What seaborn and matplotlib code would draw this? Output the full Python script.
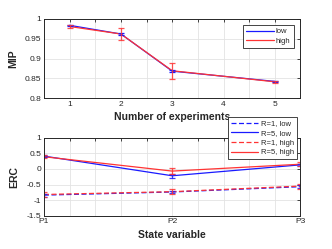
import numpy as np
import pandas as pd
import matplotlib
matplotlib.use("Agg")
import matplotlib.pyplot as plt
import seaborn as sns
from matplotlib.lines import Line2D

# ---- data: top panel ----
n_exp = [1, 2, 3, 5]
mip_low = [0.984, 0.962, 0.868, 0.842]
mip_low_err = [0.002, 0.002, 0.002, 0.001]
mip_high = [0.981, 0.962, 0.869, 0.841]
mip_high_err = [0.005, 0.014, 0.020, 0.002]

# ---- data: bottom panel ----
state_vars = ["P1", "P2", "P3"]
erc_r1_low = [-0.84, -0.74, -0.57]
erc_r1_low_err = [0.05, 0.03, 0.05]
erc_r5_low = [0.41, -0.22, 0.13]
erc_r5_low_err = [0.03, 0.06, 0.03]
erc_r1_high = [-0.82, -0.73, -0.55]
erc_r1_high_err = [0.08, 0.07, 0.08]
erc_r5_high = [0.39, -0.07, 0.15]
erc_r5_high_err = [0.05, 0.10, 0.06]

BLUE = "#1a1aff"
RED = "#ff3333"
TXT = "#262626"

sns.set_style("whitegrid")
plt.rcParams["font.family"] = ["Liberation Sans", "DejaVu Sans"]
plt.rcParams["axes.edgecolor"] = TXT
plt.rcParams["xtick.color"] = TXT
plt.rcParams["ytick.color"] = TXT

fig = plt.figure(figsize=(3.32, 2.49), dpi=100)
ax1 = fig.add_axes([0.1325, 0.6064, 0.7725, 0.3173])
ax2 = fig.add_axes([0.1325, 0.1337, 0.7725, 0.3133])

LW = 0.9
EB = dict(ls="none", capsize=2, elinewidth=0.9, capthick=0.9)

# top panel
df_top = pd.DataFrame({
    "x": n_exp * 2,
    "y": mip_low + mip_high,
    "series": ["low"] * 4 + ["high"] * 4,
})
sns.lineplot(data=df_top, x="x", y="y", hue="series",
             palette={"low": BLUE, "high": RED}, ax=ax1, lw=LW, legend=False)
ax1.errorbar(n_exp, mip_low, yerr=mip_low_err, color=BLUE, **EB)
ax1.errorbar(n_exp, mip_high, yerr=mip_high_err, color=RED, alpha=0.85, **EB)
ax1.set_xlim(0.5, 5.5)
ax1.set_ylim(0.8, 1.0)
xt = np.arange(0.5, 5.51, 0.5)
ax1.set_xticks(xt)
ax1.set_xticklabels([str(int(v)) if v == int(v) and 1 <= v <= 5 else "" for v in xt])
ax1.set_yticks([0.8, 0.85, 0.9, 0.95, 1.0])
ax1.set_yticklabels(["0.8", "0.85", "0.9", "0.95", "1"])
ax1.set_xlabel("Number of experiments", fontsize=7.5, fontweight="bold", color=TXT, labelpad=3)
ax1.set_ylabel("MIP", fontsize=7.5, fontweight="bold", color=TXT, labelpad=5)
h1 = [Line2D([], [], color=BLUE, lw=LW), Line2D([], [], color=RED, lw=LW)]
leg1 = ax1.legend(h1, ["low", "high"], loc="upper right", fontsize=5.5,
                  bbox_to_anchor=(0.975, 0.93), frameon=True, fancybox=False,
                  framealpha=1, handlelength=3.6, borderpad=0.45,
                  labelspacing=0.3, handletextpad=0.3, borderaxespad=0)
leg1.get_frame().set_edgecolor(TXT)
leg1.get_frame().set_linewidth(0.6)

# bottom panel
xpos = [1, 2, 3]
df_bot = pd.DataFrame({
    "x": xpos * 4,
    "y": erc_r1_low + erc_r5_low + erc_r1_high + erc_r5_high,
    "series": ["R=1, low"] * 3 + ["R=5, low"] * 3 + ["R=1, high"] * 3 + ["R=5, high"] * 3,
})
pal = {"R=1, low": BLUE, "R=5, low": BLUE, "R=1, high": RED, "R=5, high": RED}
dashes = {"R=1, low": (4, 2), "R=5, low": "", "R=1, high": (4, 2), "R=5, high": ""}
sns.lineplot(data=df_bot, x="x", y="y", hue="series", style="series",
             palette=pal, dashes=dashes, ax=ax2, lw=LW, legend=False)
for ys, es, c in [(erc_r1_low, erc_r1_low_err, BLUE), (erc_r5_low, erc_r5_low_err, BLUE),
                  (erc_r1_high, erc_r1_high_err, RED), (erc_r5_high, erc_r5_high_err, RED)]:
    ax2.errorbar(xpos, ys, yerr=es, color=c, alpha=0.85, **EB)
ax2.set_xlim(1, 3)
ax2.set_ylim(-1.5, 1)
xt2 = np.round(np.arange(1, 3.01, 0.2), 1)
ax2.set_xticks(xt2)
lab = {1.0: state_vars[0], 2.0: state_vars[1], 3.0: state_vars[2]}
ax2.set_xticklabels([lab.get(float(v), "") for v in xt2])
ax2.set_yticks([-1.5, -1, -0.5, 0, 0.5, 1])
ax2.set_yticklabels(["-1.5", "-1", "-0.5", "0", "0.5", "1"])
ax2.set_xlabel("State variable", fontsize=7.5, fontweight="bold", color=TXT, labelpad=3)
ax2.set_ylabel("ERC", fontsize=7.5, fontweight="bold", color=TXT, labelpad=5)
h2 = [Line2D([], [], color=BLUE, lw=LW, ls=(0, (4, 2))),
      Line2D([], [], color=BLUE, lw=LW),
      Line2D([], [], color=RED, lw=LW, ls=(0, (4, 2))),
      Line2D([], [], color=RED, lw=LW)]
leg2 = ax2.legend(h2, ["R=1, low", "R=5, low", "R=1, high", "R=5, high"],
                  loc="upper right", fontsize=5.5, bbox_to_anchor=(0.986, 1.265),
                  frameon=True, fancybox=False, framealpha=1,
                  handlelength=3.6, borderpad=0.4, labelspacing=0.3,
                  handletextpad=0.3, borderaxespad=0)
leg2.get_frame().set_edgecolor(TXT)
leg2.get_frame().set_linewidth(0.6)
leg2.set_zorder(10)

for ax in (ax1, ax2):
    ax.grid(True, color="#e3e3e3", lw=0.6)
    ax.tick_params(axis="both", which="both", labelsize=6, direction="in",
                   length=2.5, width=0.6, top=True, right=True, pad=2)
    for s in ax.spines.values():
        s.set_color(TXT)
        s.set_linewidth(0.7)
    ax.set_facecolor("white")

fig.savefig("out.png", dpi=100)
